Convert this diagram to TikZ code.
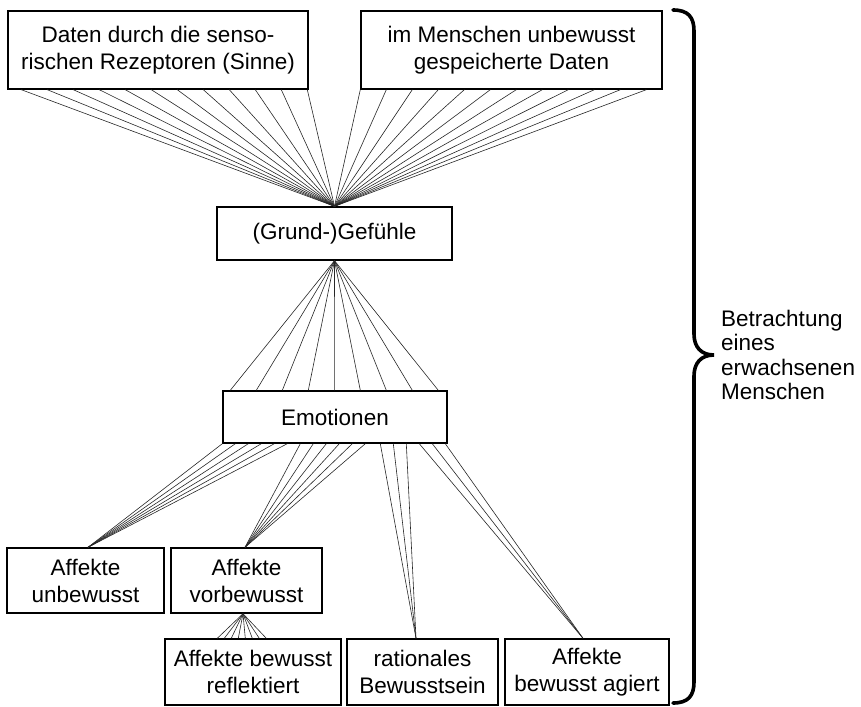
\documentclass[tikz,border=0pt]{standalone}
\usepackage{fontspec}
\setmainfont{Liberation Sans}
\usetikzlibrary{calc}
\begin{document}
\begin{tikzpicture}[x=1pt,y=-1pt,
  box/.style={draw, line width=1.4pt, inner sep=0pt, align=center, font=\fontsize{22.5}{27}\selectfont},
  fan/.style={line width=0.6pt, draw=black!85},
  bracepath/.style={line width=3.6pt, line cap=round}]
\useasboundingbox (0,0) rectangle (861,706);
% boxes
\node[box, minimum width=300pt, minimum height=78pt] (d1) at (158,50) {Daten durch die senso-\\rischen Rezeptoren (Sinne)};
\node[box, minimum width=301pt, minimum height=78pt] (d2) at (511.5,50) {im Menschen unbewusst\\gespeicherte Daten};
\node[box, minimum width=235pt, minimum height=53pt] (g) at (334.5,233.5) {(Grund-)Gefühle};
\node[box, minimum width=224pt, minimum height=52pt] (e) at (335,417) {Emotionen};
\node[box, minimum width=157pt, minimum height=65pt] (au) at (85.5,580.5) {Affekte\\unbewusst};
\node[box, minimum width=151pt, minimum height=65pt] (av) at (246.5,580.5) {Affekte\\vorbewusst};
\node[box, minimum width=176pt, minimum height=66pt] (ar) at (253,672) {Affekte bewusst\\reflektiert};
\node[box, minimum width=151pt, minimum height=66pt] (rb) at (422.5,672) {rationales\\Bewusstsein};
\node[box, minimum width=164pt, minimum height=66pt] (ag) at (587,672) {Affekte\\bewusst agiert};
% fans
\foreach \k in {0,...,11} \draw[fan] ($(d1.south west)+(14+26*\k,0)$) -- (g.north);
\foreach \k in {0,...,11} \draw[fan] ($(d2.south west)+(26*\k,0)$) -- (g.north);
\foreach \k in {0,...,8} \draw[fan] (g.south) -- ($(e.north west)+(8+26*\k,0)$);
\foreach \k in {0,...,5} \draw[fan] ($(e.south west)+(13*\k,0)$) -- ($(au.north)+(2.5,0)$);
\foreach \k in {0,...,5} \draw[fan] ($(e.south west)+(78+13*\k,0)$) -- ($(av.north)+(-1.5,0)$);
\foreach \k in {0,...,2} \draw[fan] ($(e.south west)+(158+13*\k,0)$) -- ($(rb.north)+(-6.5,0)$);
\foreach \k in {0,...,2} \draw[fan] ($(e.south west)+(197+13*\k,0)$) -- ($(ag.north)+(-4,0)$);
\foreach \k in {0,...,7} \draw[fan] ($(av.south)+(-3.5,0)$) -- ($(ar.north west)+(53+7*\k,0)$);
% brace
\draw[bracepath] (673,10) .. controls (688,10) and (694,17) .. (694,31)
  -- (694,334) .. controls (694,347) and (701,355) .. (714,355)
  .. controls (701,355) and (694,363) .. (694,376)
  -- (694,682) .. controls (694,696) and (688,703) .. (673,703);
\node[anchor=west, align=left, inner sep=0pt, font=\fontsize{22.5}{24.5}\selectfont] (t) at (721,355) {Betrachtung\\eines\\erwachsenen\\Menschen};
\end{tikzpicture}
\end{document}
